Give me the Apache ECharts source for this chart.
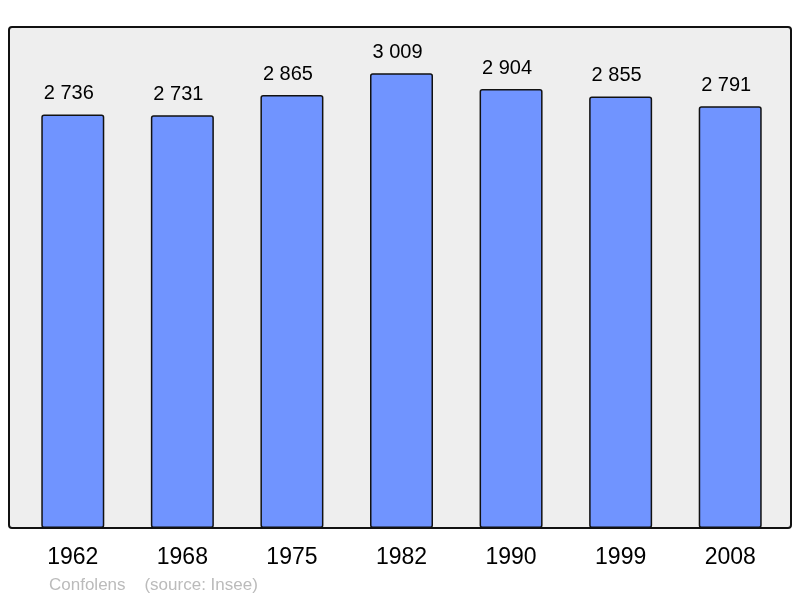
<!DOCTYPE html>
<html><head><meta charset="utf-8">
<script src="https://cdn.jsdelivr.net/npm/echarts@6/dist/echarts.min.js"></script>
<style>html,body{margin:0;padding:0;background:#fff}#c{width:800px;height:598px}</style>
</head><body><div id="c"></div>
<script>
const years = ['1962','1968','1975','1982','1990','1999','2008'];
const population = [2736, 2731, 2865, 3009, 2904, 2855, 2791];
const footer = 'Confolens    (source: Insee)';

const chart = echarts.init(document.getElementById('c'), null, {renderer: 'canvas'});
const fmt = v => String(v).replace(/\B(?=(\d{3})+(?!\d))/g, ' ');
chart.setOption({
  animation: false,
  backgroundColor: '#ffffff',
  graphic: [
    {type: 'rect', z: -10, shape: {x: 9, y: 27, width: 782, height: 501, r: 3},
     style: {fill: '#eeeeee', stroke: '#111', lineWidth: 2}},
    {type: 'text', left: 49, top: 577, style: {text: footer, fill: '#bbbbbb', font: '17px "Liberation Sans", Arial, sans-serif'}}
  ],
  grid: {left: 18, width: 767, top: 27, bottom: 70},
  xAxis: {
    type: 'category', data: years,
    axisLine: {show: false}, axisTick: {show: false},
    axisLabel: {color: '#000', fontSize: 23, fontFamily: 'Liberation Sans', margin: 18}
  },
  yAxis: {type: 'value', min: 0, max: 3315, show: false, splitLine: {show: false}},
  series: [{
    type: 'bar', data: population, barWidth: 63,
    itemStyle: {color: '#7094ff', borderColor: '#111', borderWidth: 1.5, borderRadius: 2},
    label: {show: true, position: 'top', distance: 11, offset: [-4, 0], color: '#000', fontSize: 20,
      fontFamily: 'Liberation Sans', formatter: p => fmt(p.value)}
  }]
});
</script></body></html>
